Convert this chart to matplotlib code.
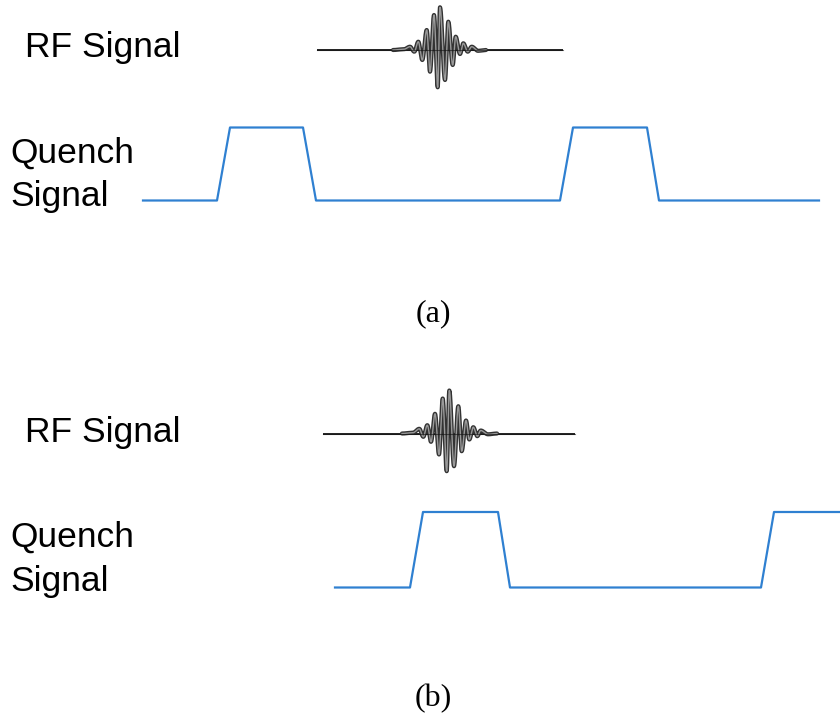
import numpy as np
import matplotlib
matplotlib.use("Agg")
import matplotlib.pyplot as plt

# ---------------- data ----------------
panel_labels = ["(a)", "(b)"]
rf_label = "RF Signal"
quench_label = "Quench\nSignal"

# Quench waveform: corner times and logic levels (0 = low, 1 = high)
quench_a_t = [143, 217, 230, 303, 316, 560, 573, 647, 659, 819]
quench_a_lvl = [0, 0, 1, 1, 0, 0, 1, 1, 0, 0]
quench_b_t = [335, 410, 423, 498, 510, 761, 774, 840]
quench_b_lvl = [0, 0, 1, 1, 0, 0, 1, 1]

# RF burst: baseline span and extrema (time, amplitude)
rf_a_span = [317, 563]
rf_a_ext_t = [393, 404, 410, 414.3, 418.3, 422.3, 426.7, 430, 434, 437.7, 440, 445,
              448.3, 452.7, 455.7, 460, 463.3, 467.7, 471.7, 478, 486]
rf_a_ext_a = [0, 0.8, 3.3, -1.7, 8.3, -10, 20, -21.7, 35, -37.3, 42.7, -30,
              28.3, -15, 13.3, -4, 6.7, -1.7, 3.3, -0.8, 0]
rf_b_span = [323, 575]
rf_b_ext_t = [402, 413, 419.3, 423.3, 427.3, 431, 435, 439, 442.7, 446.7, 449.3, 454,
              458.3, 461.7, 466, 469.3, 473.3, 477.3, 480.7, 488, 497]
rf_b_ext_a = [0, 0.8, 4.7, -3.3, 8.3, -8.3, 19.7, -21, 35, -37.7, 43, -32.7,
              27.3, -17.7, 13, -6, 6.3, -2.7, 3, -0.8, 0]

# ---------------- layout ----------------
W, H = 840, 715
fig = plt.figure(figsize=(W / 100, H / 100), dpi=100)
ax = fig.add_axes([0, 0, 1, 1])
ax.set_xlim(0, W)
ax.set_ylim(H, 0)
ax.axis("off")

sans = ["Liberation Sans", "DejaVu Sans"]
serif = ["Liberation Serif", "DejaVu Serif"]
blue = "#2f80d1"


def burst_curve(ts, amps, n=30):
    xs, ys = [], []
    for i in range(len(ts) - 1):
        s = np.linspace(0, 1, n, endpoint=False)
        w = (1 - np.cos(np.pi * s)) / 2
        xs.append(ts[i] + (ts[i + 1] - ts[i]) * s)
        ys.append(amps[i] + (amps[i + 1] - amps[i]) * w)
    xs.append([ts[-1]])
    ys.append([amps[-1]])
    return np.concatenate(xs), np.concatenate(ys)


def draw_panel(rf_y, q_low, q_high, q_t, q_lvl, span, ext_t, ext_a,
               rf_text_y, q_text_y, lab, lab_y):
    # RF baseline
    ax.plot(span, [rf_y, rf_y], color="#111111", lw=1.3, solid_capstyle="butt")
    # RF burst
    bx, by = burst_curve(ext_t, ext_a)
    ax.plot(bx, rf_y - by, color="#333333", lw=3.0, solid_joinstyle="round",
            solid_capstyle="round")
    ax.plot(bx, rf_y - by, color="#9a9a9a", lw=1.0)
    ax.plot(span, [rf_y, rf_y], color="#111111", lw=0.8, alpha=0.6)
    # Quench
    qy = [q_low - l * (q_low - q_high) for l in q_lvl]
    ax.plot(q_t, qy, color=blue, lw=1.6)
    # labels
    fs = 25.5
    ax.text(25, rf_text_y, rf_label, fontsize=fs, family=sans,
            ha="left", va="baseline", color="black")
    lines = quench_label.split("\n")
    ax.text(10, q_text_y, lines[0], fontsize=fs, family=sans,
            ha="left", va="baseline", color="black")
    ax.text(10, q_text_y + 44, lines[1], fontsize=fs, family=sans,
            ha="left", va="baseline", color="black")
    ax.text(433, lab_y, lab, fontsize=23, family=serif,
            ha="center", va="baseline", color="black")


draw_panel(50, 200.5, 127.5, quench_a_t, quench_a_lvl, rf_a_span,
           rf_a_ext_t, rf_a_ext_a, 57.3, 162.3, panel_labels[0], 321.5)
draw_panel(433.5, 587.5, 512, quench_b_t, quench_b_lvl, rf_b_span,
           rf_b_ext_t, rf_b_ext_a, 442.3, 547, panel_labels[1], 706.5)

fig.savefig("out.png", dpi=100, facecolor="white")
